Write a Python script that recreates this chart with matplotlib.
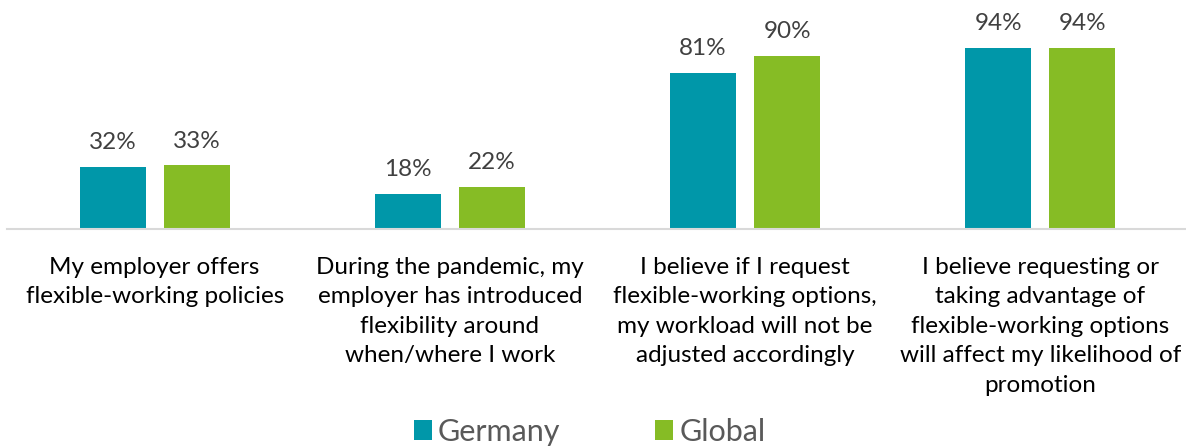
import matplotlib.pyplot as plt
import numpy as np

categories = [
    "My employer offers\nflexible-working policies",
    "During the pandemic, my\nemployer has introduced\nflexibility around\nwhen/where I work",
    "I believe if I request\nflexible-working options,\nmy workload will not be\nadjusted accordingly",
    "I believe requesting or\ntaking advantage of\nflexible-working options\nwill affect my likelihood of\npromotion",
]
germany = [32, 18, 81, 94]
global_vals = [33, 22, 90, 94]

TEAL = "#0097A9"
GREEN = "#86BC25"

plt.rcParams['font.family'] = ['Lato', 'DejaVu Sans']

fig = plt.figure(figsize=(11.86, 4.48), dpi=100)
ax = fig.add_axes([7 / 1186, (448 - 229) / 448, 1181 / 1186, 192.6 / 448])

x = np.arange(len(categories))
w = 0.2235
off = 0.1422
b1 = ax.bar(x - off, germany, w, color=TEAL, label="Germany")
b2 = ax.bar(x + off, global_vals, w, color=GREEN, label="Global")

for bars, vals in ((b1, germany), (b2, global_vals)):
    for rect, v in zip(bars, vals):
        ax.annotate(f"{v}%", (rect.get_x() + rect.get_width() / 2, v),
                    xytext=(0, 10), textcoords="offset points",
                    ha="center", va="bottom", fontsize=17.5, color="#404040")

ax.set_xlim(-0.5, 3.5)
ax.set_ylim(0, 100)
ax.set_yticks([])
ax.set_xticks([])
for s in ("top", "right", "left"):
    ax.spines[s].set_visible(False)
ax.spines["bottom"].set_color("#D9D9D9")
ax.spines["bottom"].set_linewidth(1.5)

for xi, label in zip(x, categories):
    ax.annotate(label, (xi, 0), xycoords=("data", "axes fraction"),
                xytext=(0, -20), textcoords="offset points",
                ha="center", va="top", fontsize=17.5, color="#000000",
                linespacing=1.5)

fig.legend(handles=[b1, b2], loc="center", bbox_to_anchor=(0.497, 0.036),
           ncol=2, frameon=False, fontsize=22, labelcolor="#595959",
           handlelength=0.59, handleheight=0.59, handletextpad=0.2,
           columnspacing=3.1)

fig.savefig("out.png", dpi=100)
